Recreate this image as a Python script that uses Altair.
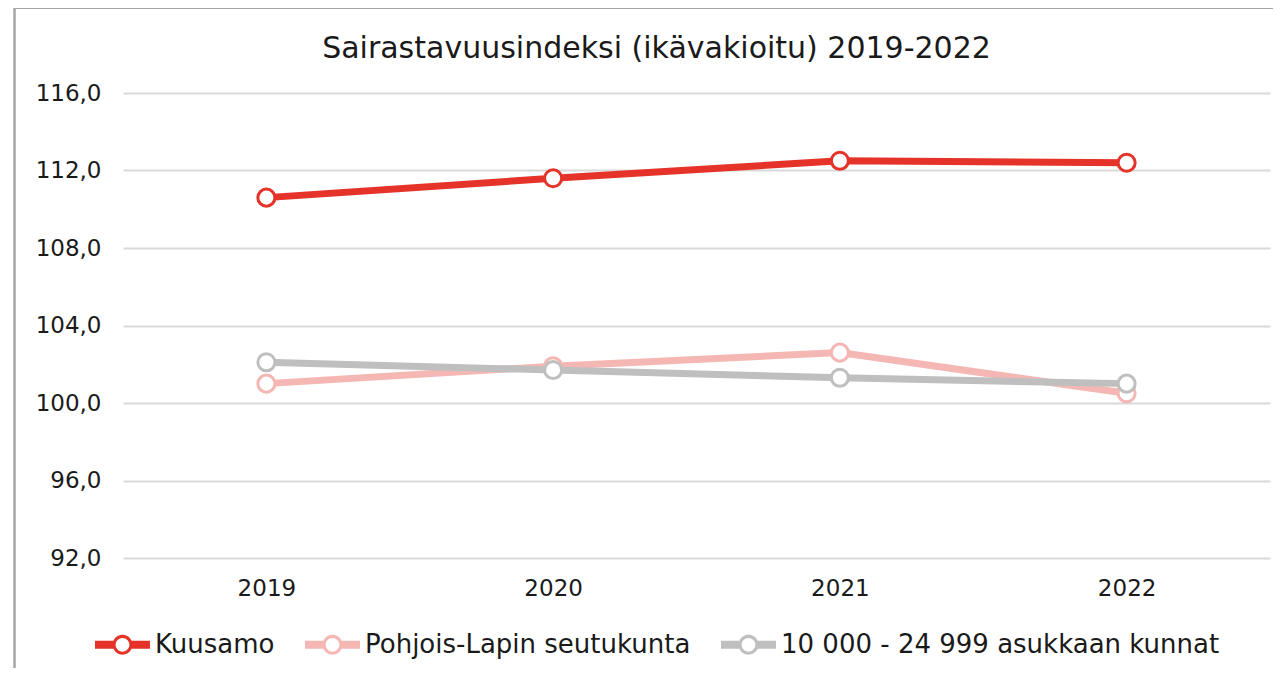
import altair as alt
import pandas as pd

years = ["2019", "2020", "2021", "2022"]
series_names = ["Kuusamo", "Pohjois-Lapin seutukunta", "10 000 - 24 999 asukkaan kunnat"]
kuusamo = [110.6, 111.6, 112.5, 112.4]
pohjois_lappi = [101.0, 101.9, 102.6, 100.5]
kunnat = [102.1, 101.7, 101.3, 101.0]
colors = ["#E5332A", "#F5B7B4", "#BFBFBF"]
y_ticks = [92, 96, 100, 104, 108, 112, 116]

rows = []
for name, vals in zip(series_names, [kuusamo, pohjois_lappi, kunnat]):
    for yr, v in zip(years, vals):
        rows.append({"Vuosi": yr, "Sarja": name, "Arvo": v})
df = pd.DataFrame(rows)

FONT = "DejaVu Sans"
TXT = "#1a1a1a"
color_scale = alt.Scale(domain=series_names, range=colors)

legend_path = (
    "M-1,-0.145 L-0.33,-0.145 A0.36,0.36 0 0,1 0.33,-0.145 L1,-0.145 L1,0.145 "
    "L0.33,0.145 A0.36,0.36 0 0,1 -0.33,0.145 L-1,0.145 Z "
    "M0.25,0 A0.25,0.25 0 0,0 -0.25,0 A0.25,0.25 0 0,0 0.25,0 Z"
)

x_enc = alt.X(
    "Vuosi:O",
    sort=years,
    title=None,
    axis=alt.Axis(labelAngle=0, domain=False, ticks=False, grid=False, labelPadding=19,
                  labelFontSize=23, labelFont=FONT, labelColor=TXT),
)
y_enc = alt.Y(
    "Arvo:Q",
    title=None,
    scale=alt.Scale(domain=[92, 116], nice=False, zero=False),
    axis=alt.Axis(values=y_ticks, domain=False, ticks=False, labelPadding=22,
                  labelFontSize=23, labelFont=FONT, labelColor=TXT,
                  gridColor="#D9D9D9", gridWidth=2,
                  labelExpr="replace(format(datum.value, '.1f'), '.', ',')"),
)

frame = alt.Chart(df).mark_rect(fill="transparent", stroke="#A6A6A6", strokeWidth=1.2, clip=False).encode(
    x=alt.value(-108.5), x2=alt.value(1300), y=alt.value(-84.5), y2=alt.value(700),
)

legend_layer = alt.Chart(df).mark_point(filled=True, size=10, opacity=0).encode(
    x=x_enc,
    y=y_enc,
    color=alt.Color(
        "Sarja:N", scale=color_scale, sort=series_names,
        legend=alt.Legend(
            title=None, orient="none", direction="horizontal",
            legendX=-28, legendY=524,
            symbolType=legend_path, symbolSize=3025, symbolStrokeWidth=0,
            symbolOpacity=1, labelFontSize=26, labelFont=FONT, labelColor=TXT,
            labelOffset=5, columnPadding=30, labelLimit=600,
        ),
    ),
)

lines = alt.Chart(df).mark_line(strokeWidth=7).encode(
    x=x_enc,
    y=y_enc,
    stroke=alt.Stroke("Sarja:N", scale=color_scale, sort=series_names, legend=None),
    order=alt.Order("Vuosi:O"),
)

points = alt.Chart(df).mark_point(filled=True, size=290, strokeWidth=3, opacity=1).encode(
    x=x_enc,
    y=y_enc,
    fill=alt.value("white"),
    stroke=alt.Stroke("Sarja:N", scale=color_scale, sort=series_names, legend=None),
)

chart = alt.layer(frame, legend_layer, lines, points).properties(
    width=1147,
    height=465,
    background="white",
    autosize=alt.AutoSizeParams(type="none"),
    padding={"left": 115, "top": 85, "right": 3, "bottom": 110},
    title=alt.Title(
        "Sairastavuusindeksi (ikävakioitu) 2019-2022",
        fontSize=30, font=FONT, fontWeight="normal", color=TXT,
        dx=-40, offset=-56, frame="group",
    ),
).configure_view(strokeWidth=0, stroke="transparent")

chart.save("out.html", embed_options={"renderer": "svg", "actions": False})
